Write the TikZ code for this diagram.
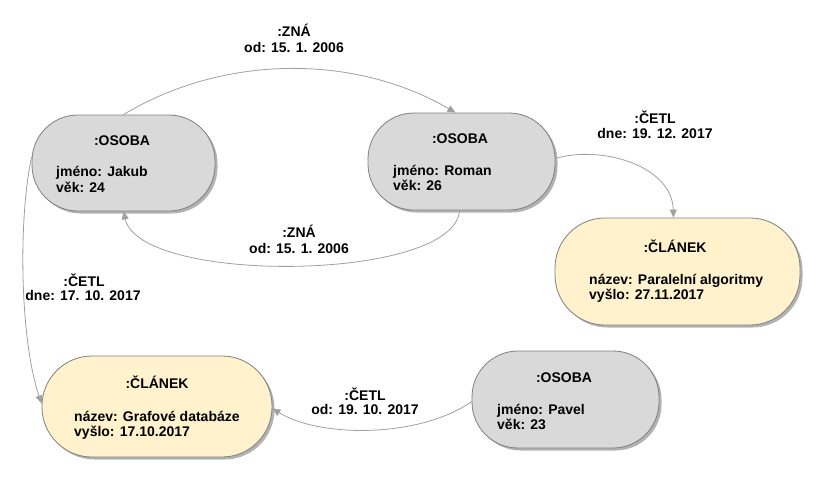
\documentclass[tikz,border=0pt]{standalone}
\usepackage{fontspec}
\setmainfont{Liberation Sans}
\usetikzlibrary{arrows.meta,shadows}
\definecolor{osobafill}{HTML}{D9D9D9}
\definecolor{clanekfill}{HTML}{FFF2CC}
\definecolor{boxline}{HTML}{7F7F7F}
\definecolor{edgeline}{HTML}{A0A0A0}
\begin{document}
\begin{tikzpicture}[x=1pt,y=-1pt,
  box/.style={draw=boxline, line width=0.8pt, inner sep=0pt,
    drop shadow={shadow xshift=2.5pt, shadow yshift=-2.5pt, fill=black, opacity=0.3}},
  osoba/.style={box, fill=osobafill, rounded corners=46pt},
  clanek/.style={box, fill=clanekfill, rounded corners=50pt},
  txt/.style={font=\bfseries\fontsize{14}{15}\selectfont, inner sep=0pt},
  title/.style={txt, anchor=base},
  body/.style={txt, anchor=base west},
  lbl/.style={txt, anchor=base},
  rel/.style={draw=edgeline, line width=0.8pt, -{Triangle[length=8pt,width=7pt]}}
]
\useasboundingbox (0,0) rectangle (817,496);

% nodes
\node[osoba, minimum width=183pt, minimum height=96pt] (jakub) at (123.5,163) {};
\node[osoba, minimum width=187pt, minimum height=97pt] (roman) at (461.5,161.5) {};
\node[clanek, minimum width=245pt, minimum height=107pt] (clanek1) at (677.5,271.5) {};
\node[clanek, minimum width=230pt, minimum height=101pt] (clanek2) at (157,406.5) {};
\node[osoba, minimum width=187pt, minimum height=97pt] (pavel) at (565.5,399.5) {};

% node texts
\node[title] (jakubT) at (122,145) {:OSOBA};
\node[body] (jakubA) at (56,176) {jméno: Jakub};
\node[body] (jakubB) at (56,192) {věk: 24};

\node[title] (romanT) at (460,143) {:OSOBA};
\node[body] (romanA) at (393,175) {jméno: Roman};
\node[body] (romanB) at (393,190) {věk: 26};

\node[title] (clanek1T) at (675,252) {:ČLÁNEK};
\node[body] (clanek1A) at (589,284) {název: Paralelní algoritmy};
\node[body] (clanek1B) at (589,299) {vyšlo: 27.11.2017};

\node[title] (clanek2T) at (157,388) {:ČLÁNEK};
\node[body] (clanek2A) at (74,421) {název: Grafové databáze};
\node[body] (clanek2B) at (74,436) {vyšlo: 17.10.2017};

\node[title] (pavelT) at (564,382) {:OSOBA};
\node[body] (pavelA) at (497,414) {jméno: Pavel};
\node[body] (pavelB) at (497,429) {věk: 23};

% edges
\draw[rel] (jakub.north) .. controls (224,54) and (355,54) .. ([xshift=-6pt]roman.north);
\draw[rel] ([xshift=-2pt]roman.south) .. controls (455,282) and (140,285) .. (jakub.south);
\draw[rel] ([yshift=3pt]roman.east) .. controls (600,145) and (672,165) .. ([xshift=-4pt]clanek1.north);
\draw[rel] ([yshift=6pt]jakub.west) .. controls (18,220) and (20,340) .. ([yshift=3pt]clanek2.west);
\draw[rel] ([yshift=-2pt]pavel.west) .. controls (420,438) and (320,438) .. ([yshift=-2pt]clanek2.east);

% edge labels
\node[lbl] (l1a) at (294,36) {:ZNÁ};
\node[lbl] (l1b) at (294,52) {od: 15. 1. 2006};
\node[lbl] (l2a) at (299,237) {:ZNÁ};
\node[lbl] (l2b) at (299,253) {od: 15. 1. 2006};
\node[lbl] (l3a) at (655,123) {:ČETL};
\node[lbl] (l3b) at (655,138) {dne: 19. 12. 2017};
\node[lbl] (l4a) at (84,286) {:ČETL};
\node[lbl] (l4b) at (83,300) {dne: 17. 10. 2017};
\node[lbl] (l5a) at (365,400) {:ČETL};
\node[lbl] (l5b) at (365,414) {od: 19. 10. 2017};
\end{tikzpicture}
\end{document}
